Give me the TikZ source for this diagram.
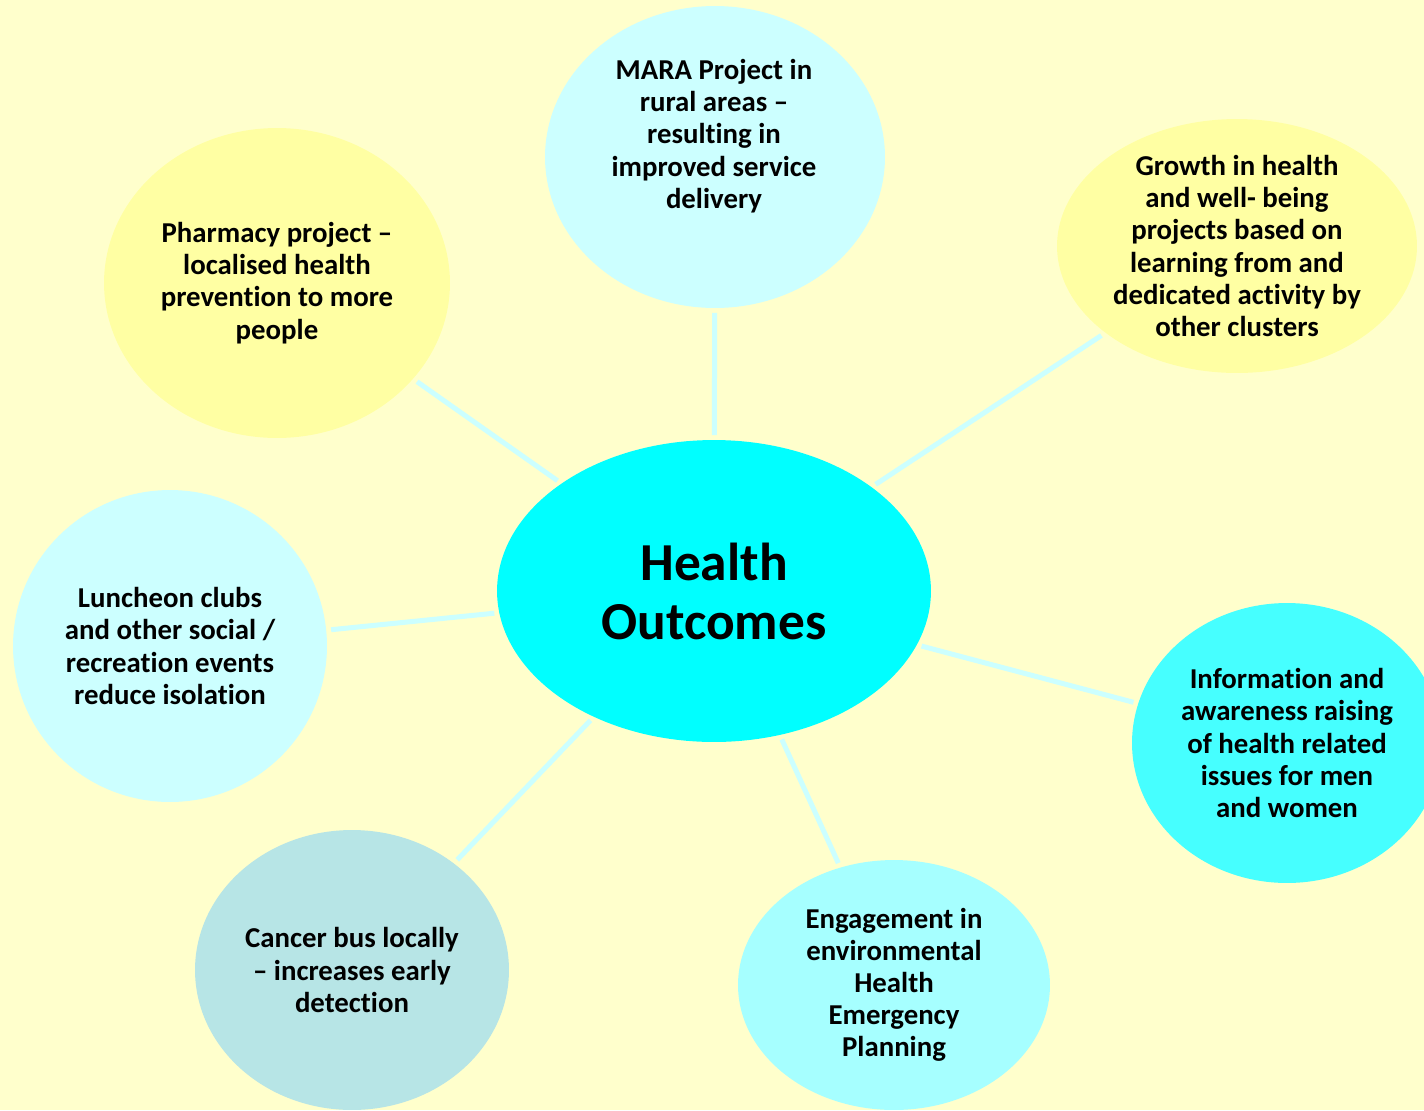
\documentclass[tikz,border=0pt]{standalone}
\usepackage{fontspec}
\setmainfont{Carlito}[Ligatures=NoCommon]
\usetikzlibrary{shapes.geometric}

\definecolor{paper}{HTML}{FFFFCC}
\definecolor{hubcyan}{HTML}{00FFFF}
\definecolor{palecyan}{HTML}{CCFFFF}
\definecolor{paleyellow}{HTML}{FFFFA3}
\definecolor{midcyan}{HTML}{46FFFF}
\definecolor{softcyan}{HTML}{A6FFFF}
\definecolor{greycyan}{HTML}{B7E5E6}

\begin{document}
\begin{tikzpicture}[
    x=0.02cm, y=-0.02cm,
    bubble/.style={ellipse, inner sep=0pt, outer sep=0pt},
    caption/.style={align=center, font=\bfseries\fontsize{16.4}{18.3}\selectfont},
    spoke/.style={palecyan, line width=0.1cm, shorten <=0.1cm, shorten >=0.1cm}
  ]
  \useasboundingbox (0,0) rectangle (1424,1110);
  \clip (0,0) rectangle (1424,1110);
  \fill[paper] (0,0) rectangle (1424,1110);

  % centre
  \node[bubble, fill=hubcyan, minimum width=8.68cm, minimum height=6.04cm,
        align=center, font=\bfseries\fontsize{30.4}{33.6}\selectfont]
    (hub) at (714,591) {Health\\Outcomes};

  % bubbles round it
  \node[bubble, fill=palecyan, minimum width=6.8cm, minimum height=6.04cm] (mara) at (715,157) {};
  \node[bubble, fill=paleyellow, minimum width=7.2cm, minimum height=5.08cm] (growth) at (1237,246) {};
  \node[bubble, fill=paleyellow, minimum width=6.92cm, minimum height=6.2cm] (pharmacy) at (277,283) {};
  \node[bubble, fill=palecyan, minimum width=6.28cm, minimum height=6.24cm] (luncheon) at (170,646) {};
  \node[bubble, fill=midcyan, minimum width=6.2cm, minimum height=5.6cm] (info) at (1287,743) {};
  \node[bubble, fill=softcyan, minimum width=6.24cm, minimum height=5cm] (engage) at (894,985) {};
  \node[bubble, fill=greycyan, minimum width=6.28cm, minimum height=5.6cm] (cancer) at (352,970) {};

  % texts
  \node[caption] (mara-t) at (714,136) {MARA Project in\\rural areas --\\resulting in\\improved service\\delivery};
  \node[caption] (growth-t) at (growth) {Growth in health\\and well- being\\projects based on\\learning from and\\dedicated activity by\\other clusters};
  \node[caption] (pharmacy-t) at (pharmacy) {Pharmacy project --\\localised health\\prevention to more\\people};
  \node[caption] (luncheon-t) at (luncheon) {Luncheon clubs\\and other social /\\recreation events\\reduce isolation};
  \node[caption] (info-t) at (info) {Information and\\awareness raising\\of health related\\issues for men\\and women};
  \node[caption] (engage-t) at (engage) {Engagement in\\environmental\\Health\\Emergency\\Planning};
  \node[caption] (cancer-t) at (cancer) {Cancer bus locally\\-- increases early\\detection};

  % spokes
  \draw[spoke] (hub) -- (mara);
  \draw[spoke] (hub) -- (growth);
  \draw[spoke] (hub) -- (pharmacy);
  \draw[spoke] (hub) -- (luncheon);
  \draw[spoke] (hub) -- (info);
  \draw[spoke] (hub) -- (engage);
  \draw[spoke] (hub) -- (cancer);
\end{tikzpicture}
\end{document}
